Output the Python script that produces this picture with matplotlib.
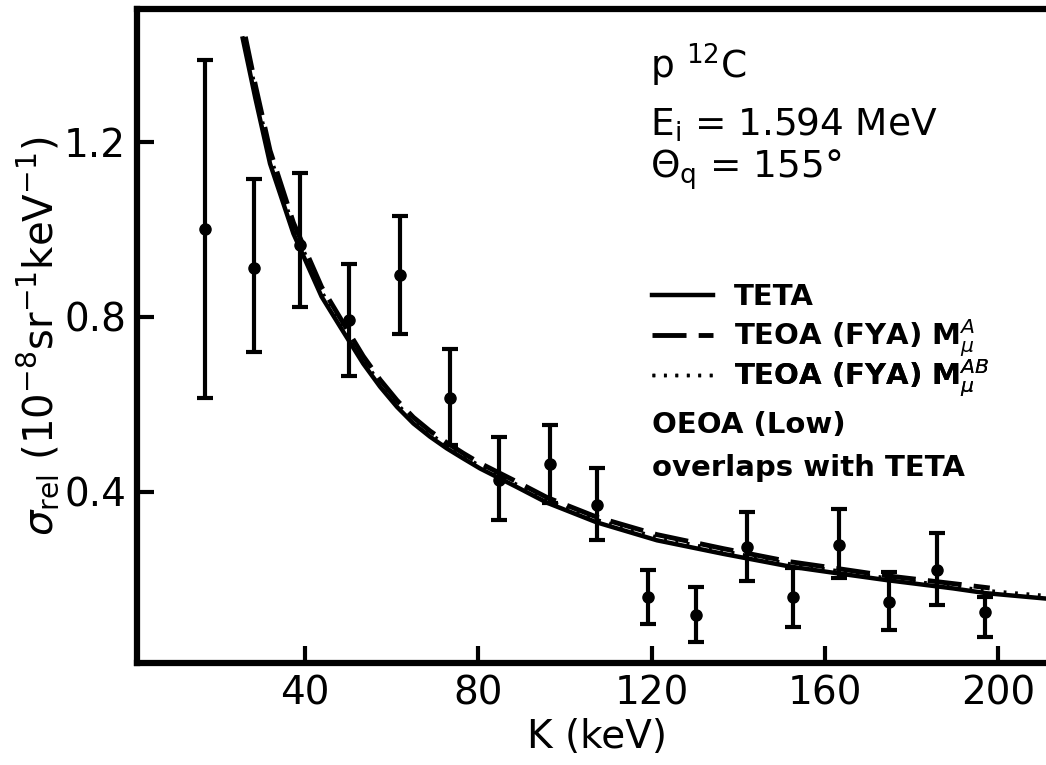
import numpy as np
import matplotlib
matplotlib.use("Agg")
import matplotlib.pyplot as plt

# data
k_data = [17.0, 28.3, 38.8, 50.2, 61.9, 73.5, 84.8, 96.5, 107.4, 119.2,
          130.2, 142.0, 152.6, 163.3, 174.8, 185.8, 197.0]
sig_data = [1.00, 0.911, 0.963, 0.792, 0.895, 0.614, 0.427, 0.463, 0.370, 0.159,
            0.118, 0.274, 0.159, 0.278, 0.148, 0.221, 0.125]
sig_hi = [1.387, 1.114, 1.128, 0.920, 1.030, 0.726, 0.525, 0.552, 0.454, 0.221,
          0.182, 0.353, 0.226, 0.360, 0.216, 0.305, 0.159]
sig_lo = [0.614, 0.719, 0.822, 0.664, 0.760, 0.507, 0.335, 0.374, 0.290, 0.098,
          0.056, 0.196, 0.091, 0.203, 0.084, 0.141, 0.068]

# TETA (solid)
k_teta = [25.6, 28.5, 31.9, 37.3, 43.8, 48.1, 53.4, 57.3, 61.2, 65.0, 68.8, 72.7,
          76.5, 80.4, 84.2, 88.8, 95.8, 107.3, 121.2, 136.5, 151.9, 161.1, 174.2,
          189.6, 197.3, 213]
sig_teta = [1.436, 1.30, 1.15, 0.99, 0.846, 0.777, 0.693, 0.640, 0.594, 0.556, 0.526,
            0.499, 0.476, 0.453, 0.434, 0.411, 0.375, 0.330, 0.289, 0.258, 0.229,
            0.216, 0.198, 0.179, 0.168, 0.154]

# TEOA (FYA) M^A (dashed)
k_fya_a = [26.2, 28.5, 31.9, 37.3, 43.8, 48.1, 53.4, 57.3, 61.2, 65.0, 68.8, 72.7,
           76.5, 80.4, 84.2, 88.8, 95.8, 107.3, 121.2, 136.5, 151.9, 161.1, 174.2,
           189.6, 198]
sig_fya_a = [1.44, 1.33, 1.18, 1.015, 0.868, 0.797, 0.71, 0.656, 0.609, 0.57, 0.539,
             0.512, 0.488, 0.465, 0.446, 0.423, 0.387, 0.342, 0.302, 0.27, 0.24,
             0.227, 0.208, 0.19, 0.18]

# TEOA (FYA) M^AB (dotted)
k_fya_ab = [27.0, 28.5, 31.9, 37.3, 43.8, 48.1, 53.4, 57.3, 61.2, 65.0, 68.8, 72.7,
            76.5, 80.4, 84.2, 88.8, 95.8, 107.3, 121.2, 136.5, 151.9, 161.1, 174.2,
            189.6, 197.3, 213]
sig_fya_ab = [1.40, 1.32, 1.17, 1.005, 0.858, 0.787, 0.702, 0.648, 0.601, 0.563, 0.533,
              0.506, 0.482, 0.459, 0.44, 0.417, 0.381, 0.336, 0.296, 0.265, 0.235,
              0.222, 0.203, 0.184, 0.174, 0.161]

plt.rcParams["font.family"] = ["DejaVu Sans"]
plt.rcParams["mathtext.fontset"] = "dejavusans"

fig = plt.figure(figsize=(10.46, 7.65), dpi=100)
ax = fig.add_axes([137 / 1046, 0.1333, 1.01 - 137 / 1046, 0.988 - 0.1333])

lo = np.array(sig_data) - np.array(sig_lo)
hi = np.array(sig_hi) - np.array(sig_data)
ax.errorbar(k_data, sig_data, yerr=[lo, hi], fmt="o", color="black", ms=8,
            elinewidth=3, capsize=6, capthick=3)

l1, = ax.plot(k_teta, sig_teta, color="black", lw=3.2)
l2, = ax.plot(k_fya_a, sig_fya_a, color="black", lw=3.5, dashes=(7, 2.5))
l3, = ax.plot(k_fya_ab, sig_fya_ab, color="black", lw=2.5, dashes=(0.8, 2.5))

ax.set_xlim(1.2, 213.4)
ax.set_ylim(0.0085, 1.503)
ax.set_xticks([40, 80, 120, 160, 200])
ax.set_yticks([0.4, 0.8, 1.2])
ax.set_yticklabels(["0.4", "0.8", "1.2"])
ax.tick_params(direction="in", length=12, width=3, labelsize=28, pad=8)
for s in ax.spines.values():
    s.set_linewidth(4.5)
ax.spines["right"].set_visible(False)

ax.set_xlabel("K (keV)", fontsize=28, labelpad=4)
ax.set_ylabel(r"$\sigma_{\rm rel}\ (10^{-8}{\rm sr}^{-1}{\rm keV}^{-1})$", fontsize=29,
              labelpad=2)

ax.text(0.558, 0.914, r"p $^{12}$C", transform=ax.transAxes, fontsize=27, va="center")
ax.text(0.558, 0.823, r"E$_{\rm i}$ = 1.594 MeV", transform=ax.transAxes, fontsize=27,
        va="center")
ax.text(0.558, 0.755, r"$\Theta_{\rm q}$ = 155°", transform=ax.transAxes, fontsize=27,
        va="center")

# legend rows, one legend per row so spacing stays even
rows = [(l1, "TETA", 0.56), (l2, r"TEOA (FYA) M$_\mu^A$", 0.497),
        (l3, r"TEOA (FYA) M$_\mu^{AB}$", 0.436)]
for h, lab, yy in rows:
    leg = ax.legend([h], [lab], loc="center left", bbox_to_anchor=(0.56, yy),
                    frameon=False, prop={"size": 21, "weight": "bold"},
                    handlelength=2.1, handletextpad=0.7, borderpad=0, borderaxespad=0)
    ax.add_artist(leg)

ax.text(0.56, 0.364, "OEOA (Low)", transform=ax.transAxes, fontsize=21, weight="bold",
        va="center")
ax.text(0.56, 0.298, "overlaps with TETA", transform=ax.transAxes, fontsize=21,
        weight="bold", va="center")

fig.savefig("out.png", dpi=100)
